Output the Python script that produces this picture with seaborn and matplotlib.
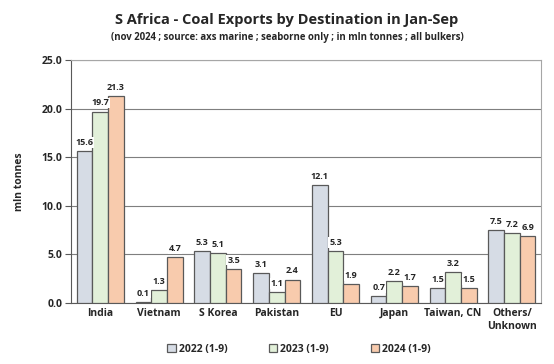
import pandas as pd
import matplotlib.pyplot as plt
import seaborn as sns

destinations = ["India", "Vietnam", "S Korea", "Pakistan", "EU", "Japan", "Taiwan, CN", "Others/\nUnknown"]
years = ["2022 (1-9)", "2023 (1-9)", "2024 (1-9)"]
exports_2022 = [15.6, 0.1, 5.3, 3.1, 12.1, 0.7, 1.5, 7.5]
exports_2023 = [19.7, 1.3, 5.1, 1.1, 5.3, 2.2, 3.2, 7.2]
exports_2024 = [21.3, 4.7, 3.5, 2.4, 1.9, 1.7, 1.5, 6.9]
colors = ["#D6DCE5", "#E2F0D9", "#F8CBAD"]

df = pd.DataFrame({
    "dest": destinations * 3,
    "year": [y for y in years for _ in destinations],
    "value": exports_2022 + exports_2023 + exports_2024,
})

sns.set_style("white")
plt.rcParams['font.family'] = ['Open Sans', 'DejaVu Sans']

fig = plt.figure(figsize=(5.54, 3.64), dpi=100)
ax = fig.add_axes([0.128, 0.168, 0.849, 0.667])

sns.barplot(data=df, x="dest", y="value", hue="year", palette=colors, saturation=1,
            width=0.8, edgecolor="#595959", linewidth=0.9, ax=ax, zorder=3)

ax.set_ylim(0, 25)
ax.set_yticks([0, 5, 10, 15, 20, 25])
ax.set_yticklabels([f"{v:.1f}" for v in [0, 5, 10, 15, 20, 25]], fontsize=7.5, fontweight="bold")
ax.tick_params(axis="x", labelsize=7.5, length=0, pad=4)
for t in ax.get_xticklabels():
    t.set_fontweight("bold")
ax.tick_params(axis="y", left=True, length=4, width=0.8, color="#595959", pad=2)
ax.yaxis.grid(True, color="#7f7f7f", linewidth=0.8, zorder=0)
ax.set_axisbelow(True)
for s in ax.spines.values():
    s.set_color("#a6a6a6")
    s.set_linewidth(0.8)
ax.spines["left"].set_color("#595959")
ax.spines["bottom"].set_color("#595959")
ax.set_xlabel("")
ax.set_ylabel("mln tonnes", fontsize=7.5, fontweight="bold", labelpad=12)

for cont in ax.containers:
    ax.bar_label(cont, fmt="%.1f", fontsize=6.5, fontweight="bold", padding=3,
                 bbox=dict(facecolor="white", edgecolor="none", pad=0.5))

ax.legend(loc="upper center", bbox_to_anchor=(0.485, -0.13), ncol=3, frameon=False,
          handlelength=0.8, handleheight=0.8, columnspacing=4,
          handletextpad=0.3, prop={"weight": "bold", "size": 7.5})

fig.text(0.518, 0.935, "S Africa - Coal Exports by Destination in Jan-Sep",
         ha="center", fontsize=10.5, fontweight="bold")
fig.text(0.518, 0.89, "(nov 2024 ; source: axs marine ; seaborne only ; in mln tonnes ; all bulkers)",
         ha="center", fontsize=6.9, fontweight="bold")

fig.savefig("out.png", dpi=100)
